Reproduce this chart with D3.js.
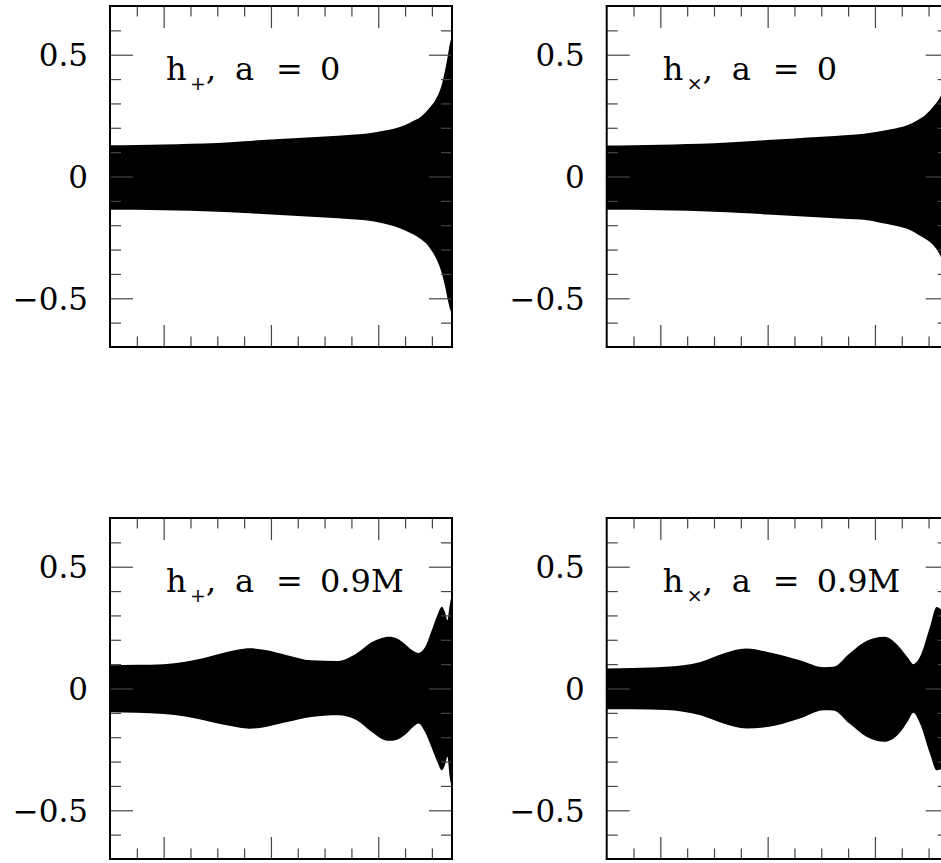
<!DOCTYPE html>
<html lang="en">

<head>
  <meta charset="utf-8">
  <title>h+ / hx waveforms</title>
  <script src="https://d3js.org/d3.v7.min.js"></script>
  <style>
    body { margin: 0; background: #fff; }
    text { font-family: "DejaVu Serif", serif; fill: #000; }
  </style>
</head>

<body>
  <script>
    // envelope of the (very dense) oscillation
    var t_a0 = [0, 1, 2, 3, 4, 5, 6, 7, 8, 9, 9.6, 10.2, 10.8, 11.2, 11.6, 11.9, 12.15, 12.35, 12.5, 12.6, 12.68, 12.73];
    var hPlus_a0_hi = [0.128, 0.129, 0.131, 0.134, 0.138, 0.145, 0.152, 0.158, 0.164, 0.171, 0.177, 0.188, 0.203, 0.222, 0.246, 0.280, 0.318, 0.37, 0.44, 0.50, 0.55, 0.57];
    var hPlus_a0_lo = [-0.136, -0.137, -0.139, -0.141, -0.145, -0.150, -0.156, -0.162, -0.168, -0.175, -0.181, -0.193, -0.212, -0.232, -0.258, -0.290, -0.335, -0.39, -0.455, -0.51, -0.545, -0.56];

    var t_a0x = [0, 1, 2, 3, 4, 5, 6, 7, 8, 9, 9.6, 10.2, 10.8, 11.2, 11.6, 11.9, 12.2, 12.46, 12.73];
    var hCross_a0_hi = [0.127, 0.128, 0.130, 0.133, 0.137, 0.143, 0.150, 0.156, 0.163, 0.170, 0.176, 0.186, 0.198, 0.210, 0.232, 0.255, 0.290, 0.333, 0.42];
    var hCross_a0_lo = [-0.136, -0.137, -0.139, -0.141, -0.145, -0.150, -0.156, -0.162, -0.168, -0.174, -0.178, -0.190, -0.203, -0.215, -0.238, -0.258, -0.285, -0.330, -0.42];

    var t_a09 = [0, 1, 2, 2.8, 3.5, 4.2, 4.8, 5.2, 5.8, 6.6, 7.5, 8.5, 9.2, 9.75, 10.1, 10.4, 10.7, 11.0, 11.3, 11.5, 11.75, 12.0, 12.2, 12.37, 12.5, 12.58, 12.66, 12.73];
    var hPlus_a09_hi = [0.095, 0.097, 0.100, 0.110, 0.125, 0.146, 0.160, 0.165, 0.158, 0.137, 0.116, 0.113, 0.145, 0.19, 0.206, 0.212, 0.205, 0.182, 0.155, 0.146, 0.17, 0.24, 0.30, 0.336, 0.31, 0.28, 0.34, 0.38];
    var hPlus_a09_lo = [-0.097, -0.100, -0.105, -0.115, -0.13, -0.148, -0.160, -0.165, -0.158, -0.138, -0.117, -0.11, -0.13, -0.178, -0.205, -0.215, -0.21, -0.19, -0.158, -0.144, -0.18, -0.245, -0.30, -0.336, -0.31, -0.28, -0.36, -0.40];

    var t_a09x = [0, 1, 2.2, 3.5, 4.35, 5.2, 6.0, 7.2, 8.1, 8.45, 9.05, 9.7, 10.35, 10.9, 11.25, 11.43, 11.68, 12.05, 12.3, 12.5, 12.73];
    var hCross_a09_hi = [0.082, 0.084, 0.089, 0.109, 0.144, 0.164, 0.150, 0.116, 0.087, 0.089, 0.144, 0.196, 0.212, 0.171, 0.123, 0.100, 0.13, 0.253, 0.335, 0.32, 0.28];
    var hCross_a09_lo = [-0.085, -0.085, -0.088, -0.11, -0.144, -0.164, -0.158, -0.123, -0.089, -0.09, -0.144, -0.199, -0.219, -0.185, -0.13, -0.10, -0.144, -0.267, -0.336, -0.33, -0.28];

    var yMajorTicks = [-0.5, 0, 0.5];
    var yMinorTicks = [-0.6, -0.4, -0.3, -0.2, -0.1, 0.1, 0.2, 0.3, 0.4, 0.6];
    var xMajorTicks = [2, 6, 10];
    var xMinorTicks = [1, 3, 4, 5, 7, 8, 9, 11, 12];

    var panels = [
      { sym: '+', spin: '0', t: t_a0, hi: hPlus_a0_hi, lo: hPlus_a0_lo, col: 0, row: 0 },
      { sym: '\u00d7', spin: '0', t: t_a0x, hi: hCross_a0_hi, lo: hCross_a0_lo, col: 1, row: 0 },
      { sym: '+', spin: '0.9M', t: t_a09, hi: hPlus_a09_hi, lo: hPlus_a09_lo, col: 0, row: 1 },
      { sym: '\u00d7', spin: '0.9M', t: t_a09x, hi: hCross_a09_hi, lo: hCross_a09_lo, col: 1, row: 1 }
    ];

    var w = 941, h = 863;
    var pw = 342, ph = 341;
    var colX = [110, 606.7], rowY = [6, 518];

    var x = d3.scaleLinear().domain([0, 12.75]).range([0, pw]);
    var y = d3.scaleLinear().domain([-0.7, 0.7]).range([ph, 0]);

    var svg = d3.select('body').append('svg')
      .attr('width', w)
      .attr('height', h);

    var area = d3.area()
      .x(function (d) { return x(d.t); })
      .y0(function (d) { return y(d.lo); })
      .y1(function (d) { return y(d.hi); })
      .curve(d3.curveMonotoneX);

    panels.forEach(function (p, i) {
      var g = svg.append('g')
        .attr('transform', 'translate(' + [colX[p.col], rowY[p.row]] + ')');

      g.append('clipPath').attr('id', 'clip' + i)
        .append('rect').attr('width', pw).attr('height', ph);

      var rows = p.t.map(function (t, k) { return { t: t, hi: p.hi[k], lo: p.lo[k] }; });
      g.append('path')
        .datum(rows)
        .attr('clip-path', 'url(#clip' + i + ')')
        .attr('fill', '#000')
        .attr('d', area);

      // inward ticks on all four sides
      function tickAxis(axis, vals, len, tr) {
        var a = g.append('g').attr('transform', tr || null)
          .call(axis(vals === yMajorTicks || vals === yMinorTicks ? y : x)
            .tickValues(vals).tickSize(-len).tickFormat(''));
        a.select('.domain').remove();
        a.selectAll('line').attr('stroke', '#444').attr('stroke-width', 1.2);
        return a;
      }
      tickAxis(d3.axisBottom, xMajorTicks, 22, 'translate(0,' + ph + ')');
      tickAxis(d3.axisBottom, xMinorTicks, 10.5, 'translate(0,' + ph + ')');
      tickAxis(d3.axisTop, xMajorTicks, 22);
      tickAxis(d3.axisTop, xMinorTicks, 10.5);
      tickAxis(d3.axisRight, yMajorTicks, 23, 'translate(' + pw + ',0)');
      tickAxis(d3.axisRight, yMinorTicks, 11, 'translate(' + pw + ',0)');
      tickAxis(d3.axisLeft, yMinorTicks, 11);

      var yl = g.append('g')
        .call(d3.axisLeft(y).tickValues(yMajorTicks).tickSize(-23).tickPadding(22)
          .tickFormat(function (d) { return d === 0 ? '0' : d3.format('.1f')(d); }));
      yl.select('.domain').remove();
      yl.selectAll('line').attr('stroke', '#444').attr('stroke-width', 1.2);
      yl.selectAll('text')
        .attr('font-family', '"DejaVu Serif", serif')
        .attr('font-size', 31)
        .attr('dy', '0.36em');

      g.append('rect')
        .attr('width', pw).attr('height', ph)
        .attr('fill', 'none').attr('stroke', '#000').attr('stroke-width', 2);

      // panel label  h_sym, a = spin
      var base = y(0.5) + 25;
      var lab = g.append('g').attr('font-size', 32);
      lab.append('text').attr('x', 56).attr('y', base).text('h');
      lab.append('text').attr('x', 80).attr('y', base + 10).attr('font-size', 19).text(p.sym);
      lab.append('text').attr('x', 96).attr('y', base).text(',');
      lab.append('text').attr('x', 125).attr('y', base).text('a');
      lab.append('text').attr('x', 166).attr('y', base).text('=');
      lab.append('text').attr('x', 210).attr('y', base).text(p.spin);
    });
  </script>
</body>

</html>
